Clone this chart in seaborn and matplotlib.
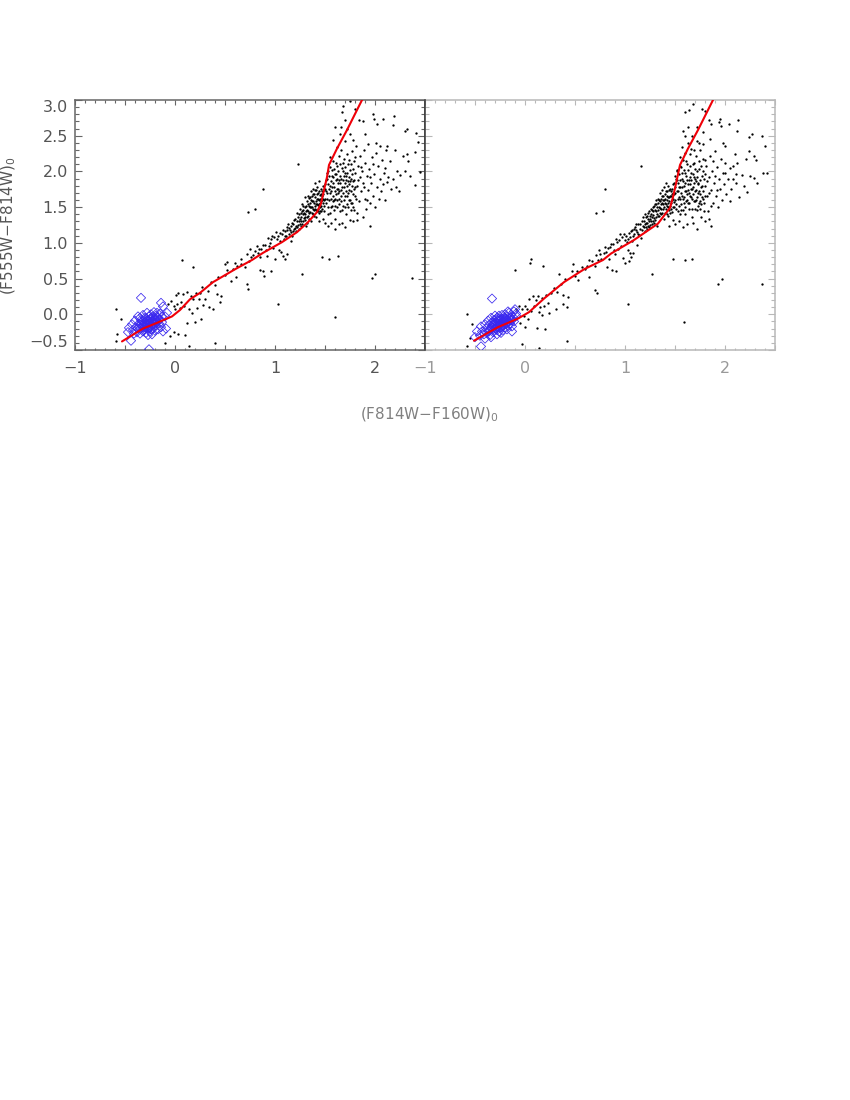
import matplotlib
matplotlib.use("Agg")
import matplotlib.pyplot as plt
import seaborn as sns
from matplotlib.ticker import MultipleLocator

# red reference sequence, one per panel
left_curve_x = [-0.53, -0.32, -0.18, -0.03, 0.05, 0.15, 0.25, 0.38, 0.60, 0.77, 0.88, 1.07, 1.22, 1.33, 1.42, 1.46, 1.49, 1.52, 1.54, 1.62, 1.72, 1.87]
left_curve_y = [-0.38, -0.20, -0.12, -0.03, 0.06, 0.21, 0.30, 0.45, 0.63, 0.76, 0.86, 1.01, 1.15, 1.29, 1.43, 1.55, 1.74, 1.92, 2.09, 2.32, 2.58, 3.00]
right_curve_x = [-0.51, -0.27, -0.07, 0.04, 0.19, 0.39, 0.59, 0.78, 0.86, 1.09, 1.33, 1.45, 1.48, 1.51, 1.55, 1.63, 1.73, 1.88]
right_curve_y = [-0.37, -0.18, -0.06, 0.03, 0.22, 0.45, 0.63, 0.76, 0.85, 1.04, 1.27, 1.49, 1.64, 1.83, 2.09, 2.32, 2.58, 3.00]

# black stars
left_sparse = [
    (1.68, 2.91), (1.75, 2.98), (1.67, 2.83), (1.70, 2.72), (1.98, 2.80), (1.99, 2.74), (2.02, 2.67), (2.08, 2.73), (2.19, 2.78),
    (2.18, 2.65), (2.32, 2.60), (2.30, 2.56), (2.41, 2.54), (2.43, 2.41), (2.32, 2.25), (2.40, 2.27), (2.33, 2.14), (2.28, 2.22),
    (2.45, 1.99), (2.35, 1.93), (2.40, 1.81), (2.22, 2.00), (2.25, 1.95), (2.21, 1.78), (2.24, 1.72), (1.95, 1.24), (1.63, 0.82),
    (1.54, 0.77), (1.47, 0.80), (0.07, 0.76), (0.18, 0.66), (0.88, 1.76), (0.80, 1.48), (0.73, 1.43), (1.23, 2.10), (1.03, 0.14),
    (1.27, 0.57), (1.60, -0.04), (1.97, 0.51), (2.00, 0.57), (2.37, 0.51), (1.80, 2.87), (1.84, 2.72), (1.88, 2.71), (1.90, 2.53),
    (2.12, 2.36), (2.05, 2.35), (2.01, 2.40), (2.20, 2.30), (2.15, 2.15), (2.10, 2.05), (2.12, 1.85), (2.18, 1.90), (2.30, 2.00),
]
left_band = [
    (0.52, 0.62), (0.50, 0.70), (0.60, 0.72), (0.66, 0.70), (0.72, 0.85), (0.78, 0.83), (0.83, 0.86), (0.86, 0.92), (0.90, 0.97), (0.95, 1.00),
    (0.98, 0.93), (0.99, 1.08), (1.02, 1.05), (1.05, 1.03), (1.07, 1.13), (1.10, 1.16), (1.12, 1.22), (1.15, 1.18), (1.17, 1.10), (1.18, 1.26),
    (1.20, 1.21), (1.22, 1.30), (1.24, 1.19), (1.25, 1.34), (1.27, 1.27), (1.28, 1.40), (1.30, 1.32), (1.31, 1.24), (1.32, 1.46), (1.33, 1.37),
    (1.34, 1.52), (1.35, 1.43), (1.36, 1.30), (1.37, 1.58), (1.38, 1.48), (1.39, 1.38), (1.40, 1.64), (1.41, 1.54), (1.42, 1.45), (1.43, 1.70),
    (1.44, 1.60), (1.45, 1.50), (1.46, 1.76), (1.47, 1.66), (1.48, 1.56), (1.49, 1.44), (1.50, 1.82), (1.51, 1.72), (1.52, 1.61), (1.53, 1.50),
    (0.92, 0.82), (1.01, 1.15), (1.04, 0.90), (1.06, 0.87), (1.09, 1.05), (1.11, 1.09), (1.13, 1.26), (1.14, 1.13), (1.16, 1.24), (1.19, 1.32),
    (1.21, 1.24), (1.23, 1.36), (1.26, 1.23), (1.29, 1.35), (1.31, 1.44), (1.33, 1.55), (1.35, 1.64), (1.36, 1.50), (1.37, 1.42), (1.38, 1.68),
    (1.39, 1.56), (1.40, 1.47), (1.41, 1.74), (1.42, 1.62), (1.43, 1.53), (1.44, 1.42), (1.45, 1.67), (1.46, 1.58), (1.47, 1.48), (1.48, 1.80),
    (1.30, 1.50), (1.28, 1.46), (1.26, 1.42), (1.24, 1.30), (1.22, 1.22), (1.20, 1.33), (1.18, 1.17), (1.33, 1.45), (1.35, 1.56), (1.37, 1.66),
    (1.39, 1.46), (1.41, 1.58), (1.43, 1.62), (1.45, 1.56), (1.46, 1.68), (1.34, 1.34), (1.32, 1.28), (1.30, 1.40), (1.28, 1.31), (1.26, 1.36),
    (1.36, 1.72), (1.34, 1.63), (1.32, 1.58), (1.40, 1.84), (1.42, 1.78), (1.44, 1.86), (1.38, 1.76), (1.30, 1.64), (1.27, 1.55), (1.25, 1.48),
]
left_fan = [
    (1.52, 1.90), (1.53, 2.00), (1.55, 1.42), (1.55, 1.70), (1.56, 1.86), (1.57, 2.02), (1.58, 1.58), (1.58, 2.14), (1.59, 1.78), (1.60, 1.34),
    (1.60, 1.96), (1.61, 1.68), (1.62, 2.08), (1.62, 1.50), (1.63, 1.84), (1.64, 2.22), (1.64, 1.62), (1.65, 1.94), (1.66, 1.74), (1.66, 2.30),
    (1.67, 1.28), (1.67, 2.05), (1.68, 1.52), (1.68, 1.88), (1.69, 2.17), (1.70, 1.66), (1.70, 1.98), (1.71, 1.40), (1.72, 1.80), (1.72, 2.24),
    (1.73, 2.10), (1.74, 1.60), (1.74, 1.92), (1.75, 1.32), (1.75, 2.02), (1.76, 1.72), (1.77, 2.28), (1.78, 1.50), (1.78, 1.86), (1.79, 2.14),
    (1.80, 1.66), (1.80, 1.98), (1.81, 2.36), (1.82, 1.42), (1.82, 1.80), (1.83, 2.08), (1.84, 1.58), (1.85, 1.92), (1.85, 2.22), (1.86, 1.72),
    (1.87, 2.00), (1.88, 1.36), (1.88, 1.84), (1.89, 2.30), (1.90, 1.62), (1.90, 2.12), (1.91, 1.48), (1.92, 1.94), (1.93, 1.74), (1.93, 2.38),
    (1.94, 2.04), (1.95, 1.56), (1.96, 1.84), (1.97, 2.20), (1.98, 1.66), (1.99, 1.96), (2.00, 1.50), (2.01, 2.26), (2.02, 1.78), (2.03, 2.08),
    (2.04, 1.62), (2.05, 1.90), (2.06, 1.72), (2.07, 2.16), (2.08, 1.82), (2.09, 1.98), (2.10, 1.60), (2.11, 2.30), (2.13, 1.92), (2.16, 1.75),
    (1.54, 1.76), (1.56, 1.62), (1.58, 1.92), (1.59, 1.46), (1.61, 1.88), (1.63, 1.70), (1.65, 1.44), (1.69, 1.78), (1.71, 1.94), (1.73, 1.70),
    (1.76, 1.90), (1.77, 1.56), (1.79, 1.76), (1.81, 1.62), (1.83, 1.88), (1.86, 2.06), (1.89, 1.78), (1.92, 1.60), (1.95, 1.92), (1.98, 2.10),
    (1.57, 1.52), (1.60, 1.62), (1.62, 1.76), (1.64, 1.88), (1.66, 1.58), (1.68, 2.00), (1.70, 1.84), (1.72, 1.54), (1.74, 1.82), (1.76, 1.46),
    (1.55, 2.20), (1.58, 2.44), (1.62, 2.34), (1.65, 2.52), (1.70, 2.42), (1.72, 2.60), (1.75, 2.52), (1.78, 2.44), (1.60, 2.62), (1.66, 2.62),
    (1.56, 1.28), (1.50, 1.28), (1.53, 1.24), (1.60, 1.20), (1.44, 1.30), (1.48, 1.34), (1.64, 1.26), (1.70, 1.22), (1.78, 1.30), (1.82, 1.32),
]
left_core = [
    (1.41, 1.36), (1.43, 1.47), (1.44, 1.55), (1.45, 1.62), (1.46, 1.45), (1.47, 1.72), (1.48, 1.62), (1.49, 1.52), (1.50, 1.76), (1.50, 1.62),
    (1.51, 1.88), (1.51, 1.56), (1.52, 1.70), (1.52, 1.98), (1.53, 1.82), (1.53, 1.40), (1.54, 1.94), (1.54, 1.60), (1.55, 1.80), (1.55, 2.06),
    (1.56, 1.72), (1.56, 1.50), (1.57, 1.94), (1.57, 1.78), (1.58, 1.66), (1.58, 1.84), (1.59, 2.04), (1.59, 1.60), (1.60, 1.72), (1.60, 1.52),
    (1.61, 1.96), (1.61, 2.12), (1.62, 1.60), (1.62, 1.90), (1.63, 1.76), (1.63, 2.00), (1.64, 1.54), (1.64, 1.72), (1.65, 1.84), (1.65, 2.10),
    (1.66, 1.66), (1.66, 1.90), (1.67, 1.78), (1.67, 1.46), (1.68, 1.70), (1.68, 2.12), (1.69, 1.60), (1.69, 1.94), (1.70, 1.50), (1.70, 2.06),
    (1.71, 1.72), (1.71, 1.88), (1.72, 1.66), (1.72, 1.98), (1.73, 1.86), (1.73, 1.50), (1.74, 2.16), (1.74, 1.74), (1.75, 1.60), (1.75, 1.86),
    (1.76, 2.10), (1.76, 1.56), (1.77, 1.80), (1.77, 1.96), (1.78, 1.68), (1.78, 2.04), (1.79, 1.88), (1.79, 1.46), (1.80, 1.78), (1.80, 2.20),
    (1.22, 1.42), (1.24, 1.40), (1.26, 1.30), (1.27, 1.44), (1.28, 1.52), (1.29, 1.42), (1.30, 1.36), (1.31, 1.52), (1.32, 1.36), (1.33, 1.66),
    (1.34, 1.42), (1.35, 1.50), (1.36, 1.60), (1.37, 1.50), (1.38, 1.40), (1.38, 1.58), (1.39, 1.68), (1.40, 1.52), (1.40, 1.74), (1.41, 1.46),
    (1.42, 1.54), (1.42, 1.68), (1.43, 1.44), (1.44, 1.72), (1.45, 1.44), (1.46, 1.52), (1.47, 1.60), (1.48, 1.68), (1.49, 1.60), (1.49, 1.74),
    (1.08, 1.18), (1.10, 1.10), (1.12, 1.18), (1.14, 1.21), (1.16, 1.15), (1.17, 1.28), (1.19, 1.20), (1.21, 1.17), (1.23, 1.25), (1.25, 1.27),
    (1.03, 1.10), (1.05, 1.14), (0.96, 1.05), (0.94, 0.95), (0.91, 0.90), (0.88, 0.97), (0.84, 0.92), (0.80, 0.88), (0.76, 0.80), (0.74, 0.74),
]
left_lower = [
    (0.66, 0.77), (0.62, 0.68), (0.58, 0.63), (0.70, 0.66), (0.75, 0.92), (0.82, 0.95), (0.85, 0.80), (0.93, 1.07), (0.97, 1.10), (1.00, 0.78),
    (1.10, 0.78), (1.12, 0.85), (1.08, 0.82), (1.16, 1.02), (0.50, 0.55), (0.56, 0.46), (0.43, 0.52), (0.40, 0.41), (0.33, 0.33), (0.36, 0.45),
    (0.42, 0.28), (0.46, 0.25), (0.45, 0.17), (0.52, 0.73), (0.72, 0.43), (0.73, 0.36), (0.61, 0.52), (0.88, 0.60), (0.96, 0.61), (0.89, 0.54),
    (0.85, 0.62), (0.18, 0.22), (0.21, 0.30), (0.25, 0.30), (0.27, 0.38), (0.30, 0.22), (0.24, 0.21), (0.16, 0.26), (0.12, 0.31), (0.08, 0.29),
    (0.03, 0.30), (0.01, 0.27), (0.06, 0.17), (0.09, 0.11), (0.14, 0.08), (0.17, 0.02), (0.22, 0.09), (0.28, 0.13), (0.34, 0.10), (0.38, 0.07),
    (0.02, 0.14), (0.05, 0.09), (-0.01, 0.12), (-0.04, 0.19), (-0.07, 0.14), (0.12, -0.12), (0.20, -0.11), (0.26, -0.07), (0.40, -0.40), (0.14, -0.45),
    (-0.01, -0.25), (-0.05, -0.30), (0.03, -0.27), (0.10, -0.29), (-0.10, -0.40), (-0.59, 0.07), (-0.54, -0.07), (-0.58, -0.27), (-0.59, -0.37), (0.00, 0.08),
]
left_blue = [
    (-0.34, 0.23), (-0.44, -0.37), (-0.26, -0.49), (-0.14, 0.16), (-0.12, 0.11), (-0.47, -0.25), (-0.46, -0.19), (-0.43, -0.14), (-0.42, -0.22), (-0.41, -0.27),
    (-0.40, -0.09), (-0.39, -0.18), (-0.38, -0.25), (-0.37, -0.03), (-0.36, -0.13), (-0.35, -0.20), (-0.35, -0.27), (-0.34, -0.08), (-0.33, -0.16), (-0.32, -0.01),
    (-0.32, -0.24), (-0.31, -0.11), (-0.30, -0.18), (-0.30, -0.05), (-0.29, -0.26), (-0.29, -0.14), (-0.28, 0.02), (-0.28, -0.09), (-0.27, -0.20), (-0.27, -0.29),
    (-0.26, -0.03), (-0.26, -0.13), (-0.25, -0.07), (-0.25, -0.24), (-0.24, 0.00), (-0.24, -0.17), (-0.23, -0.10), (-0.23, -0.28), (-0.22, -0.04), (-0.22, -0.20),
    (-0.21, -0.13), (-0.21, 0.03), (-0.20, -0.08), (-0.20, -0.23), (-0.19, -0.02), (-0.19, -0.16), (-0.18, -0.11), (-0.18, 0.02), (-0.17, -0.05), (-0.17, -0.21),
    (-0.16, -0.13), (-0.15, 0.01), (-0.15, -0.07), (-0.14, -0.18), (-0.13, -0.03), (-0.13, -0.11), (-0.12, -0.24), (-0.10, -0.03), (-0.09, -0.20), (-0.08, 0.02),
    (-0.30, -0.12), (-0.27, -0.15), (-0.25, -0.12), (-0.22, -0.09), (-0.28, -0.19), (-0.24, -0.21), (-0.20, -0.15), (-0.31, -0.22), (-0.34, -0.14), (-0.37, -0.20),
    (-0.29, -0.06), (-0.26, -0.09), (-0.24, -0.05), (-0.23, -0.14), (-0.21, -0.06), (-0.19, -0.08), (-0.27, -0.11), (-0.25, -0.16), (-0.22, -0.13), (-0.20, -0.11),
    (-0.28, -0.14), (-0.31, -0.15), (-0.33, -0.10), (-0.35, -0.05), (-0.18, -0.04), (-0.16, -0.08), (-0.24, -0.10), (-0.26, -0.19), (-0.29, -0.20), (-0.32, -0.18),
]
right_sparse = [
    (1.68, 2.95), (1.60, 2.83), (1.64, 2.86), (1.77, 2.88), (1.95, 2.74), (1.94, 2.69), (1.96, 2.64), (2.04, 2.66), (2.13, 2.72), (2.12, 2.57),
    (2.27, 2.53), (2.24, 2.48), (2.37, 2.49), (2.40, 2.36), (2.24, 2.28), (2.29, 2.22), (2.31, 2.16), (2.21, 2.17), (2.38, 1.98), (2.42, 1.98),
    (2.25, 1.94), (2.29, 1.91), (2.32, 1.84), (2.11, 1.97), (2.17, 1.95), (2.19, 1.79), (2.22, 1.71), (1.86, 1.23), (1.60, 0.76), (1.48, 0.77),
    (1.67, 0.78), (0.06, 0.78), (0.18, 0.68), (0.80, 1.76), (0.78, 1.45), (0.71, 1.42), (1.16, 2.07), (1.03, 0.14), (1.27, 0.57), (1.59, -0.11),
    (1.93, 0.43), (1.97, 0.49), (2.37, 0.43), (1.80, 2.84), (1.84, 2.72), (1.86, 2.67), (1.98, 2.40), (2.00, 2.35), (2.10, 2.25), (2.12, 2.12),
    (2.05, 2.05), (2.00, 1.98), (2.08, 1.90), (1.85, 2.45), (1.78, 2.55), (1.72, 2.62), (1.63, 2.62), (1.58, 2.56), (1.67, 2.50), (1.74, 2.40),
]
right_band = [
    (0.52, 0.60), (0.48, 0.70), (0.60, 0.64), (0.67, 0.74), (0.71, 0.83), (0.76, 0.78), (0.81, 0.87), (0.85, 0.94), (0.88, 0.98), (0.92, 1.01),
    (0.96, 0.96), (0.97, 1.08), (1.00, 1.04), (1.02, 1.01), (1.04, 1.14), (1.06, 1.17), (1.08, 1.10), (1.10, 1.22), (1.12, 1.15), (1.13, 1.27),
    (1.15, 1.20), (1.16, 1.07), (1.17, 1.31), (1.18, 1.24), (1.20, 1.17), (1.21, 1.36), (1.22, 1.28), (1.23, 1.42), (1.24, 1.22), (1.25, 1.34),
    (1.26, 1.47), (1.27, 1.27), (1.28, 1.39), (1.29, 1.52), (1.30, 1.32), (1.31, 1.44), (1.32, 1.24), (1.33, 1.56), (1.34, 1.37), (1.35, 1.49),
    (1.36, 1.62), (1.37, 1.42), (1.38, 1.54), (1.39, 1.33), (1.40, 1.68), (1.41, 1.47), (1.42, 1.60), (1.43, 1.38), (1.44, 1.74), (1.45, 1.52),
    (1.46, 1.65), (1.47, 1.43), (1.48, 1.82), (1.49, 1.57), (1.50, 1.70), (1.51, 1.48), (1.52, 1.88), (1.53, 1.62), (1.54, 1.78), (1.55, 1.40),
    (0.90, 0.84), (0.99, 1.12), (1.03, 0.90), (1.05, 0.86), (1.07, 1.03), (1.09, 1.19), (1.11, 1.26), (1.14, 1.11), (1.19, 1.30), (1.21, 1.22),
    (1.23, 1.33), (1.25, 1.25), (1.27, 1.46), (1.29, 1.35), (1.31, 1.54), (1.33, 1.46), (1.35, 1.58), (1.36, 1.40), (1.37, 1.66), (1.38, 1.48),
    (1.39, 1.60), (1.40, 1.42), (1.41, 1.72), (1.42, 1.52), (1.43, 1.64), (1.44, 1.46), (1.45, 1.76), (1.46, 1.56), (1.47, 1.68), (1.48, 1.50),
    (1.28, 1.50), (1.26, 1.40), (1.24, 1.31), (1.22, 1.38), (1.20, 1.26), (1.32, 1.41), (1.34, 1.50), (1.36, 1.54), (1.38, 1.60), (1.40, 1.56),
    (1.42, 1.66), (1.30, 1.46), (1.28, 1.30), (1.35, 1.70), (1.33, 1.62), (1.31, 1.60), (1.39, 1.78), (1.41, 1.84), (1.43, 1.80), (1.37, 1.74),
]
right_fan = [
    (1.50, 1.94), (1.52, 2.02), (1.54, 1.52), (1.55, 1.88), (1.56, 2.06), (1.57, 1.66), (1.58, 2.16), (1.59, 1.80), (1.60, 1.40), (1.60, 1.98),
    (1.61, 1.72), (1.62, 2.10), (1.63, 1.56), (1.64, 1.88), (1.65, 2.24), (1.65, 1.66), (1.66, 1.98), (1.67, 1.36), (1.68, 1.78), (1.69, 2.12),
    (1.70, 1.58), (1.70, 1.90), (1.71, 2.22), (1.72, 1.46), (1.73, 1.82), (1.74, 2.04), (1.75, 1.68), (1.76, 1.36), (1.77, 1.94), (1.78, 2.18),
    (1.79, 1.56), (1.80, 1.80), (1.81, 2.08), (1.82, 1.66), (1.83, 1.44), (1.84, 1.92), (1.85, 2.22), (1.86, 1.74), (1.87, 2.00), (1.88, 1.56),
    (1.89, 1.84), (1.90, 2.28), (1.91, 1.66), (1.92, 2.06), (1.93, 1.50), (1.94, 1.90), (1.95, 1.76), (1.96, 2.18), (1.97, 1.60), (1.98, 1.98),
    (1.99, 1.82), (2.00, 2.12), (2.01, 1.68), (2.03, 1.90), (2.05, 1.58), (2.06, 1.76), (2.08, 2.08), (2.11, 1.84), (2.14, 1.64), (1.53, 1.72),
    (1.55, 1.62), (1.57, 1.90), (1.58, 1.46), (1.60, 1.84), (1.62, 1.68), (1.64, 1.48), (1.66, 1.76), (1.68, 1.96), (1.70, 1.72), (1.72, 1.92),
    (1.74, 1.56), (1.76, 1.78), (1.78, 1.62), (1.80, 1.96), (1.82, 1.86), (1.84, 1.70), (1.86, 1.52), (1.88, 2.14), (1.90, 1.94), (1.92, 1.74),
    (1.56, 1.54), (1.59, 1.64), (1.61, 1.58), (1.63, 1.82), (1.65, 1.92), (1.67, 1.62), (1.69, 1.84), (1.71, 1.60), (1.73, 1.70), (1.75, 1.48),
    (1.55, 2.20), (1.57, 2.34), (1.60, 2.26), (1.63, 2.40), (1.66, 2.32), (1.69, 2.30), (1.72, 2.42), (1.75, 2.30), (1.78, 2.38), (1.60, 2.50),
    (1.54, 1.30), (1.50, 1.26), (1.48, 1.32), (1.58, 1.22), (1.44, 1.24), (1.62, 1.26), (1.68, 1.28), (1.72, 1.20), (1.80, 1.30), (1.84, 1.34),
]
right_core = [
    (1.42, 1.40), (1.43, 1.50), (1.44, 1.58), (1.45, 1.66), (1.46, 1.48), (1.47, 1.76), (1.48, 1.62), (1.49, 1.68), (1.50, 1.78), (1.50, 1.60),
    (1.51, 1.90), (1.51, 1.54), (1.52, 1.72), (1.52, 2.00), (1.53, 1.84), (1.53, 1.44), (1.54, 1.96), (1.54, 1.64), (1.55, 1.78), (1.55, 2.08),
    (1.56, 1.70), (1.56, 1.46), (1.57, 1.98), (1.57, 1.78), (1.58, 1.62), (1.58, 1.86), (1.59, 2.02), (1.59, 1.56), (1.60, 1.72), (1.60, 1.50),
    (1.61, 1.94), (1.61, 2.14), (1.62, 1.60), (1.62, 1.88), (1.63, 1.74), (1.63, 2.02), (1.64, 1.56), (1.64, 1.70), (1.65, 1.82), (1.65, 2.08),
    (1.66, 1.64), (1.66, 1.88), (1.67, 1.76), (1.67, 1.48), (1.68, 1.68), (1.68, 2.10), (1.69, 1.58), (1.69, 1.92), (1.70, 1.48), (1.70, 2.04),
    (1.71, 1.74), (1.71, 1.86), (1.72, 1.64), (1.72, 2.00), (1.73, 1.84), (1.73, 1.52), (1.74, 2.14), (1.74, 1.72), (1.75, 1.58), (1.75, 1.88),
    (1.76, 2.08), (1.76, 1.54), (1.77, 1.80), (1.77, 1.64), (1.78, 1.72), (1.78, 2.00), (1.79, 1.90), (1.79, 1.44), (1.80, 1.66), (1.80, 2.16),
    (1.18, 1.36), (1.20, 1.40), (1.22, 1.20), (1.24, 1.44), (1.25, 1.38), (1.26, 1.30), (1.27, 1.36), (1.28, 1.44), (1.29, 1.28), (1.30, 1.54),
    (1.31, 1.36), (1.32, 1.50), (1.33, 1.38), (1.34, 1.60), (1.35, 1.42), (1.36, 1.48), (1.37, 1.56), (1.38, 1.66), (1.39, 1.50), (1.40, 1.62),
    (1.41, 1.54), (1.42, 1.72), (1.43, 1.56), (1.44, 1.64), (1.45, 1.42), (1.46, 1.72), (1.47, 1.60), (1.48, 1.70), (1.49, 1.50), (1.49, 1.84),
    (1.05, 1.08), (1.07, 1.18), (1.09, 1.12), (1.11, 1.18), (1.13, 1.13), (1.15, 1.26), (1.17, 1.18), (1.19, 1.22), (1.21, 1.28), (1.23, 1.24),
    (1.01, 1.09), (1.03, 1.05), (0.94, 1.04), (0.93, 0.92), (0.89, 0.90), (0.86, 0.99), (0.83, 0.93), (0.79, 0.86), (0.75, 0.84), (0.73, 0.76),
]
right_lower = [
    (0.64, 0.76), (0.62, 0.67), (0.57, 0.66), (0.70, 0.68), (0.74, 0.90), (0.80, 0.94), (0.84, 0.78), (0.91, 1.06), (0.95, 1.12), (0.98, 0.79),
    (1.00, 0.72), (1.04, 0.74), (1.06, 0.80), (1.08, 0.86), (1.12, 0.97), (0.47, 0.60), (0.53, 0.48), (0.40, 0.49), (0.36, 0.43), (0.29, 0.37),
    (0.32, 0.31), (0.38, 0.27), (0.43, 0.24), (0.50, 0.54), (0.70, 0.34), (0.72, 0.30), (0.64, 0.52), (0.82, 0.66), (0.91, 0.60), (0.87, 0.62),
    (0.11, 0.20), (0.13, 0.25), (0.17, 0.23), (0.21, 0.27), (0.26, 0.30), (0.23, 0.16), (0.19, 0.12), (0.15, 0.10), (0.08, 0.25), (0.04, 0.22),
    (0.00, 0.12), (0.02, 0.08), (0.06, 0.04), (0.09, 0.11), (0.14, 0.03), (0.17, -0.01), (0.24, 0.02), (0.31, 0.08), (0.38, 0.15), (0.42, 0.10),
    (-0.03, 0.07), (-0.01, -0.03), (0.03, -0.06), (-0.06, 0.12), (-0.09, 0.07), (-0.05, -0.12), (0.00, -0.18), (0.12, -0.19), (0.20, -0.21), (0.42, -0.38),
    (-0.03, -0.42), (0.14, -0.47), (-0.58, 0.00), (-0.53, -0.13), (-0.55, -0.33), (-0.58, -0.45), (-0.10, 0.62), (0.05, 0.72), (0.34, 0.56),
]
right_blue = [
    (-0.50, -0.32), (-0.45, -0.30), (-0.48, -0.24), (-0.44, -0.17), (-0.43, -0.24), (-0.41, -0.28), (-0.40, -0.14), (-0.39, -0.20), (-0.38, -0.26), (-0.37, -0.09),
    (-0.36, -0.15), (-0.35, -0.22), (-0.35, -0.29), (-0.34, -0.05), (-0.33, -0.12), (-0.33, -0.18), (-0.32, -0.25), (-0.31, -0.08), (-0.30, -0.15), (-0.30, -0.02),
    (-0.29, -0.21), (-0.29, -0.11), (-0.28, -0.28), (-0.28, -0.05), (-0.27, -0.17), (-0.27, -0.09), (-0.26, -0.24), (-0.26, -0.02), (-0.25, -0.13), (-0.25, -0.19),
    (-0.24, -0.07), (-0.24, -0.26), (-0.23, -0.11), (-0.23, -0.01), (-0.22, -0.16), (-0.22, -0.22), (-0.21, -0.05), (-0.21, -0.12), (-0.20, -0.18), (-0.20, 0.00),
    (-0.19, -0.09), (-0.19, -0.14), (-0.18, -0.21), (-0.18, -0.03), (-0.17, -0.10), (-0.17, -0.16), (-0.16, 0.02), (-0.16, -0.06), (-0.15, -0.13), (-0.14, -0.01),
    (-0.14, -0.09), (-0.13, -0.17), (-0.12, -0.04), (-0.11, 0.04), (-0.11, -0.10), (-0.10, 0.07), (-0.09, -0.02), (-0.40, -0.34), (-0.34, -0.32), (-0.28, -0.18),
    (-0.26, -0.15), (-0.23, -0.18), (-0.20, -0.08), (-0.31, -0.18), (-0.33, 0.22), (-0.44, -0.45), (-0.17, 0.04), (-0.13, -0.24), (-0.09, 0.01), (-0.24, -0.14),
    (-0.32, -0.15), (-0.30, -0.20), (-0.29, -0.07), (-0.27, -0.13), (-0.25, -0.09), (-0.23, -0.06), (-0.22, -0.12), (-0.20, -0.05), (-0.18, -0.12), (-0.16, -0.10),
    (-0.36, -0.24), (-0.34, -0.20), (-0.31, -0.12), (-0.28, -0.22), (-0.26, -0.06), (-0.24, -0.18), (-0.21, -0.15), (-0.19, -0.06), (-0.15, -0.05), (-0.13, -0.08),
]

x_ticks = [-1, -0.5, 0, 0.5, 1, 1.5, 2, 2.5]
x_labels = ["\u22121", "", "0", "", "1", "", "2", ""]
y_ticks = [-0.5, 0, 0.5, 1, 1.5, 2, 2.5, 3]
y_labels = ["\u22120.5", "0.0", "0.5", "1.0", "1.5", "2.0", "2.5", "3.0"]

sns.set_style("ticks")
plt.rcParams["font.family"] = ["DejaVu Sans"]
plt.rcParams["mathtext.fontset"] = "dejavusans"
plt.rcParams["mathtext.default"] = "rm"

fig = plt.figure(figsize=(8.5, 11), dpi=100)
ax1 = fig.add_axes([75 / 850, 750 / 1100, 350 / 850, 250 / 1100])
ax2 = fig.add_axes([425 / 850, 750 / 1100, 350 / 850, 250 / 1100])


def draw_panel(ax, stars, blue, curve_x, curve_y, frame, label_color):
    sx = [p[0] for p in stars]
    sy = [p[1] for p in stars]
    sns.scatterplot(x=sx, y=sy, ax=ax, color="black", s=2.8, linewidth=0, marker="o", zorder=2)
    bx = [p[0] for p in blue]
    by = [p[1] for p in blue]
    sns.scatterplot(x=bx, y=by, ax=ax, marker="D", s=22, facecolors="none", edgecolors="#3a28ee",
                    linewidth=0.55, zorder=3)
    sns.lineplot(x=curve_x, y=curve_y, ax=ax, color="#f00008", linewidth=1.5, sort=False,
                 estimator=None, zorder=4)

    ax.set_xlim(-1, 2.5)
    ax.set_ylim(-0.5, 3)
    ax.set_xticks(x_ticks)
    ax.set_xticklabels(x_labels)
    ax.xaxis.set_minor_locator(MultipleLocator(0.1))
    ax.yaxis.set_minor_locator(MultipleLocator(0.1))
    ax.tick_params(axis="x", which="major", direction="in", top=True, length=3.6, width=0.8, color=frame,
                   labelsize=11.5, labelcolor=label_color, pad=8)
    ax.tick_params(axis="x", which="minor", direction="in", top=True, length=1.8, width=0.8, color=frame)
    ax.tick_params(axis="y", which="major", direction="in", right=True, length=5.2, width=0.8, color=frame,
                   labelsize=11.5, labelcolor=label_color, pad=5)
    ax.tick_params(axis="y", which="minor", direction="in", right=True, length=2.6, width=0.8, color=frame)
    for side in ax.spines:
        ax.spines[side].set_visible(True)
        ax.spines[side].set_color(frame)
        ax.spines[side].set_linewidth(1.1)


draw_panel(ax1, left_sparse + left_band + left_fan + left_core + left_lower, left_blue, left_curve_x, left_curve_y, "#666666", "#555555")
draw_panel(ax2, right_sparse + right_band + right_fan + right_core + right_lower, right_blue, right_curve_x, right_curve_y, "#b8b8b8", "#999999")

# y labels sit inside the axis range at both ends
ax1.set_yticks(y_ticks)
ax1.set_yticklabels(y_labels)
ax1_labels = ax1.get_yticklabels()
ax1_labels[0].set_va("bottom")
ax1_labels[-1].set_va("top")

# shared middle edge: right panel keeps a dark left side
ax2.set_yticks(y_ticks)
ax2.set_yticklabels([])
ax2.spines["left"].set_color("#333333")
ax2.spines["left"].set_zorder(5)
for tick in ax2.yaxis.get_major_ticks() + ax2.yaxis.get_minor_ticks():
    tick.tick1line.set_color("#333333")

fig.text(429 / 850, 1 - 415 / 1100, r"(F814W$-$F160W)$_0$", color="#808080", fontsize=11, ha="center", va="center")
fig.text(9 / 850, 1 - 226 / 1100, r"(F555W$-$F814W)$_0$", color="#555555", fontsize=11, ha="center", va="center", rotation=90)

fig.savefig("out.png", dpi=100)
